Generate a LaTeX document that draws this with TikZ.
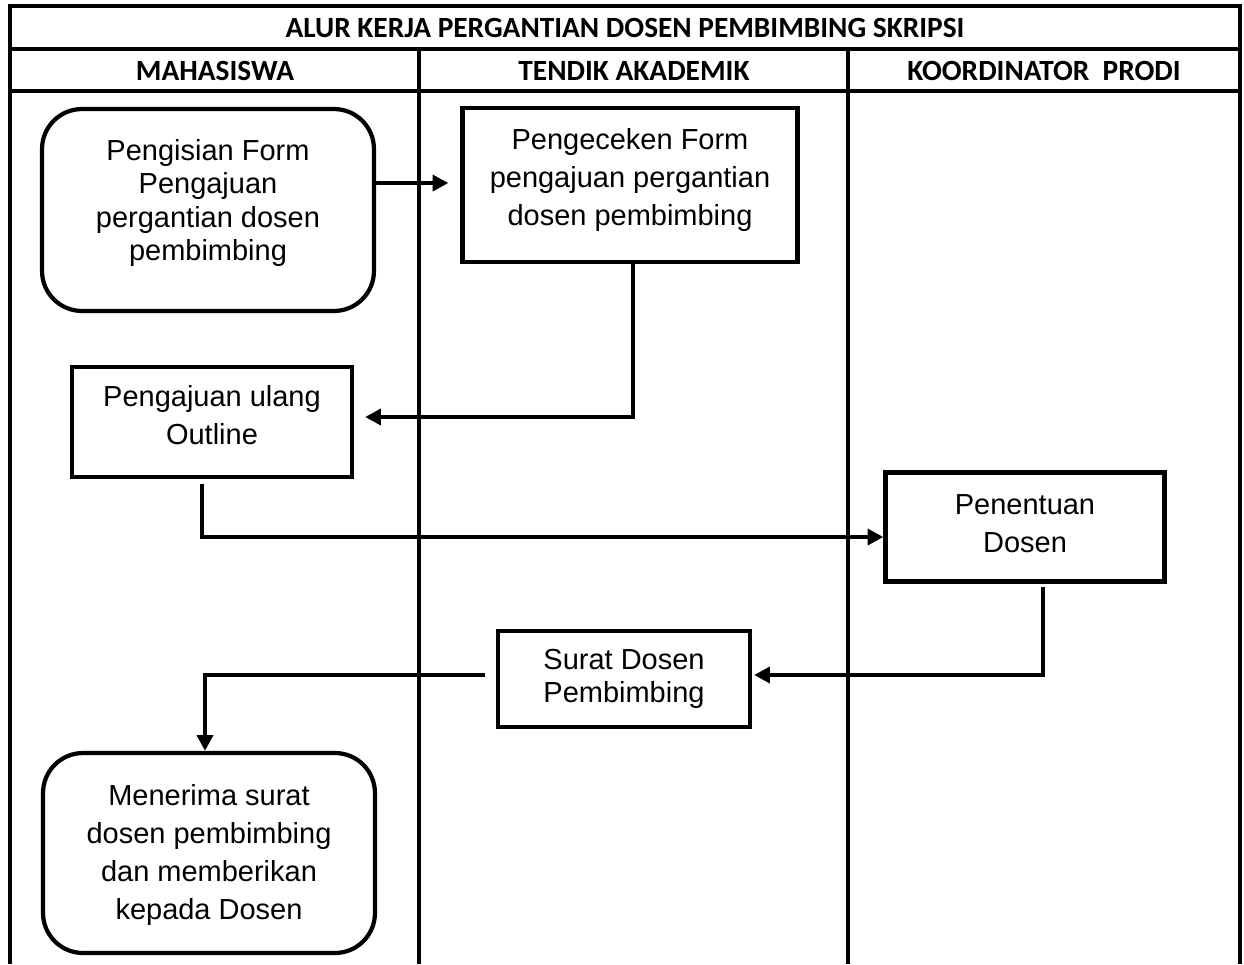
\documentclass[tikz,border=0pt]{standalone}
\usepackage{fontspec}
\setmainfont{Liberation Sans}
\newfontfamily\headfont{Carlito}
\usetikzlibrary{arrows.meta}
\tikzstyle{arrow} = [line width=2.3pt,-{Triangle[length=9pt,width=9pt]}]
\tikzstyle{lane} = [line width=2.8pt]
\tikzstyle{boxtext} = [align=center, inner sep=0pt, font=\fontsize{16.5}{21.5}\selectfont]
\tikzstyle{tighttext} = [boxtext, font=\fontsize{16.5}{19}\selectfont]
\tikzstyle{process} = [draw, line width=2.4pt]
\tikzstyle{startstop} = [process, rounded corners=0.8cm]
\tikzstyle{head} = [font=\headfont\bfseries\fontsize{16.7}{19}\selectfont]

\begin{document}
\begin{tikzpicture}[x=0.02cm,y=-0.02cm]
\useasboundingbox (0,0) rectangle (1244,964);
% lanes
\draw[lane] (10,964) -- (10,6) -- (1240,6) -- (1240,964);
\draw[lane] (10,49) -- (1240,49);
\draw[lane] (10,91) -- (1240,91);
\draw[lane] (419,49) -- (419,964);
\draw[lane] (848,49) -- (848,964);
\node[head] (title) at (625,28) {ALUR KERJA PERGANTIAN DOSEN PEMBIMBING SKRIPSI};
\node[head] (mhs) at (215,71) {MAHASISWA};
\node[head] (tendik) at (634,71) {TENDIK AKADEMIK};
\node[head] (koor) at (1044,71) {KOORDINATOR\ \ PRODI};
% steps
\node[startstop, minimum width=6.64cm, minimum height=4.04cm,
  label={[tighttext, yshift=0.14cm]center:Pengisian Form\\Pengajuan\\pergantian dosen\\pembimbing}] (isi) at (208,210) {};
\node[process, minimum width=6.7cm, minimum height=3.08cm,
  label={[boxtext, yshift=0.1cm]center:Pengeceken Form\\pengajuan pergantian\\dosen pembimbing}] (cek) at (630,185) {};
\node[process, minimum width=5.6cm, minimum height=2.2cm,
  label={[boxtext, yshift=0.14cm]center:Pengajuan ulang\\Outline}] (ulang) at (212,422) {};
\node[process, minimum width=5.58cm, minimum height=2.18cm,
  label={[boxtext, yshift=0.07cm]center:Penentuan\\Dosen}] (tentu) at (1025,527) {};
\node[process, minimum width=5.04cm, minimum height=1.92cm,
  label={[tighttext]center:Surat Dosen\\Pembimbing}] (surat) at (624,679) {};
\node[startstop, minimum width=6.64cm, minimum height=4cm,
  label={[boxtext, yshift=-0.04cm]center:Menerima surat\\dosen pembimbing\\dan memberikan\\kepada Dosen}] (terima) at (209,853) {};
% flow
\draw[arrow] (isi.east |- 0,183) -- ([xshift=-0.24cm]cek.west |- 0,183);
\draw[arrow] ([xshift=0.06cm]cek.south) |- ([xshift=0.22cm,yshift=0.1cm]ulang.east);
\draw[arrow] ([xshift=-0.2cm,yshift=-0.1cm]ulang.south) |- ([yshift=-0.2cm]tentu.west);
\draw[arrow] ([xshift=0.36cm,yshift=-0.06cm]tentu.south) |- ([xshift=0.04cm,yshift=0.08cm]surat.east);
\draw[arrow] ([xshift=-0.22cm,yshift=0.08cm]surat.west) -| ([xshift=-0.08cm]terima.north);
\end{tikzpicture}
\end{document}
